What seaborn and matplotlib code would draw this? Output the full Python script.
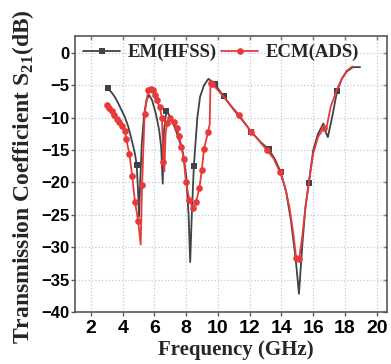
import matplotlib
matplotlib.use('Agg')
import pandas as pd
import seaborn as sns
import matplotlib.pyplot as plt
from matplotlib.lines import Line2D

# EM (HFSS) simulated S21
em_freq = [3.05, 3.3, 3.5, 3.7, 3.93, 4.15, 4.35, 4.5, 4.67, 4.78, 4.88, 4.96, 5.03, 5.1, 5.2,
           5.35, 5.5, 5.66, 5.85, 6.1, 6.3, 6.42, 6.52,
           6.6, 6.75, 6.9, 7.2, 7.5, 7.8, 8.0, 8.15, 8.25, 8.35, 8.48, 8.7, 8.87, 9.12, 9.4,
           9.6, 9.8, 10.35, 11.0, 11.6, 12.1, 12.7, 13.2, 13.6, 13.95, 14.3, 14.6, 14.9, 15.1,
           15.3, 15.5, 15.72, 16.0, 16.3, 16.64, 16.78, 16.92, 17.2, 17.5, 17.8, 18.1, 18.5, 18.95]
em_s21 = [-5.5, -6.1, -6.8, -7.7, -8.85, -10.0, -11.4, -12.8, -14.5, -15.7, -17.3, -21.0, -25.3, -20.0, -14.0,
          -9.5, -7.3, -6.5, -7.3, -9.5, -12.0, -14.5, -20.2,
          -12.0, -9.0, -9.5, -11.0, -13.0, -15.5, -19.0, -25.0, -32.3, -25.0, -17.5, -10.0, -6.8, -5.0, -4.0,
          -4.4, -4.8, -6.7, -8.8, -10.6, -12.2, -13.8, -14.9, -16.5, -18.4, -21.5, -26.0, -32.0, -37.2,
          -30.0, -24.0, -20.1, -15.0, -12.5, -10.9, -12.2, -13.0, -9.8, -5.9, -4.0, -2.9, -2.2, -2.2]
em_marks = [0, 10, 24, 33, 39, 40, 43, 45, 47, 54, 61]

# ECM (ADS) circuit model S21
ecm_freq = [2.99, 3.15, 3.3, 3.47, 3.62, 3.78, 3.95, 4.14, 4.22, 4.42, 4.6, 4.77, 4.98, 5.13, 5.22,
            5.38, 5.6, 5.76, 5.92, 6.03, 6.14, 6.33, 6.47, 6.56, 6.62, 6.7, 6.8, 6.95, 7.2, 7.4,
            7.55, 7.7, 7.85, 7.98, 8.2, 8.41, 8.62, 8.83, 8.98, 9.12, 9.38, 9.48, 9.52, 9.56, 9.64,
            10.3, 10.8, 11.33, 11.8, 12.1, 12.6, 13.07, 13.5, 13.9, 14.2, 14.5, 14.75, 14.92, 15.1,
            15.3, 15.5, 15.75, 16.0, 16.3, 16.55, 16.7, 16.85, 17.1, 17.5, 17.8, 18.1, 18.4, 18.5]
ecm_s21 = [-8.0, -8.5, -9.0, -9.6, -10.2, -10.7, -11.3, -12.0, -13.3, -15.6, -19.0, -23.0, -26.0, -29.6, -20.4,
           -9.4, -5.8, -5.6, -5.7, -6.5, -7.3, -8.4, -10.0, -16.8, -18.3, -12.5, -10.8, -10.1, -10.7, -11.6,
           -12.8, -14.5, -16.4, -19.9, -22.7, -24.0, -23.0, -20.9, -18.1, -14.8, -12.2, -11.0, -5.5, -4.7, -4.8,
           -6.6, -8.1, -9.6, -11.2, -12.2, -13.6, -15.0, -16.3, -18.4, -20.5, -23.8, -28.0, -31.6, -31.9,
           -28.5, -24.0, -19.5, -15.5, -13.0, -12.0, -11.6, -11.4, -8.3, -5.6, -4.0, -2.8, -2.2, -2.1]
ecm_marks = [0, 1, 2, 3, 4, 5, 6, 7, 8, 9, 10, 11, 12, 14, 15, 16, 17, 18, 19, 20, 21, 22, 23,
             26, 27, 28, 29, 30, 31, 32, 33, 34, 35, 36, 37, 38, 39, 40, 43, 44, 47, 49, 51, 53, 57, 58, 65]

x_ticks = [2, 4, 6, 8, 10, 12, 14, 16, 18, 20]
y_ticks = [0, -5, -10, -15, -20, -25, -30, -35, -40]

em_color = '#3e4347'
ecm_color = '#e83a3a'
spine_color = '#555a5e'

sns.set_style('ticks')
plt.rcParams['mathtext.fontset'] = 'custom'
plt.rcParams['mathtext.rm'] = 'Liberation Serif:bold'

em_df = pd.DataFrame({'freq': em_freq, 's21': em_s21})
ecm_df = pd.DataFrame({'freq': ecm_freq, 's21': ecm_s21})

fig = plt.figure(figsize=(3.91, 3.64), dpi=100)
ax = fig.add_axes([0.192, 0.143, 0.798, 0.758])

sns.lineplot(x='freq', y='s21', data=em_df, ax=ax, color=em_color, linewidth=1.3,
             marker='s', markersize=4.2, markevery=em_marks, markeredgecolor=em_color,
             markeredgewidth=0, sort=False)
sns.lineplot(x='freq', y='s21', data=ecm_df, ax=ax, color=ecm_color, linewidth=1.3,
             marker='o', markersize=4.8, markevery=ecm_marks, markeredgecolor=ecm_color,
             markeredgewidth=0, sort=False)

ax.set_xlim(1.0, 20.65)
ax.set_ylim(-40, 2.6)
ax.set_xticks(x_ticks)
ax.set_yticks(y_ticks)
ax.grid(True, linestyle=':', color='#c5c9d6', linewidth=0.9)

for s in ax.spines.values():
    s.set_color(spine_color)
    s.set_linewidth(1.2)

ax.tick_params(axis='x', direction='out', length=3, width=1, pad=3, labelsize=14,
               colors=spine_color, labelcolor='black')
ax.tick_params(axis='y', direction='out', length=3, width=1, pad=1, labelsize=12,
               colors=spine_color, labelcolor='black')
for lab in ax.get_xticklabels() + ax.get_yticklabels():
    lab.set_fontweight('bold')
    lab.set_family('Liberation Sans')

# inward ticks on the top and right frame
top = ax.secondary_xaxis('top')
top.set_xticks(x_ticks)
top.tick_params(direction='in', length=3, width=1, colors=spine_color, labeltop=False)
right = ax.secondary_yaxis('right')
right.set_yticks(y_ticks)
right.tick_params(direction='in', length=3, width=1, colors=spine_color, labelright=False)
for sec in (top, right):
    for s in sec.spines.values():
        s.set_visible(False)

ax.set_xlabel('Frequency (GHz)', family='Liberation Serif', fontweight='bold', fontsize=15)
ax.set_ylabel('Transmission Coefficient S$_{\\mathrm{21}}$(dB)', family='Liberation Serif',
              fontweight='bold', fontsize=17)
ax.xaxis.set_label_coords(0.516, -0.1)
ax.yaxis.set_label_coords(-0.125, 0.49)

handles = [Line2D([], [], color=em_color, linewidth=1.3, marker='s', markersize=4.2, markeredgewidth=0),
           Line2D([], [], color=ecm_color, linewidth=1.3, marker='o', markersize=4.8, markeredgewidth=0)]
ax.legend(handles, ['EM(HFSS)', 'ECM(ADS)'], loc='center', bbox_to_anchor=(0.468, 0.94), ncol=2,
          frameon=False, handlelength=2.0, handletextpad=0.4, columnspacing=0.2,
          prop={'family': 'Liberation Serif', 'weight': 'bold', 'size': 13.5})

fig.savefig('out.png', dpi=100)
